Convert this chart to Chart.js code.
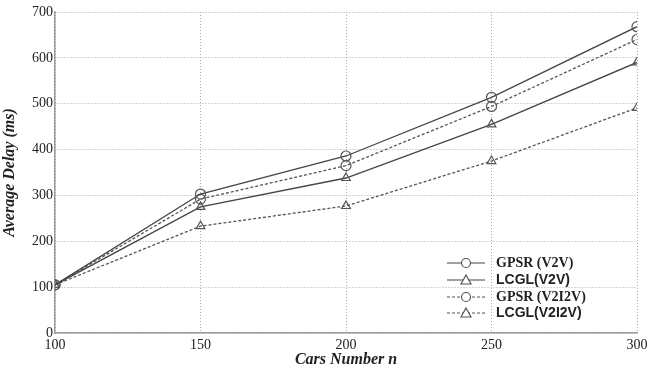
<!DOCTYPE html>
<html>
<head>
<meta charset="utf-8">
<script src="https://cdn.jsdelivr.net/npm/chart.js@4/dist/chart.umd.min.js"></script>
<style>
  html, body { margin: 0; padding: 0; background: #fff; }
  #wrap { position: relative; width: 656px; height: 369px; }
</style>
</head>
<body>
<div id="wrap"><canvas id="c" width="656" height="369"></canvas></div>
<script>
// Daten
const carsNumber = [100, 150, 200, 250, 300];
const gpsrV2V = [105, 303, 386, 514, 668];
const lcglV2V = [105, 275, 338, 455, 590];
const gpsrV2I2V = [105, 292, 365, 494, 640];
const lcglV2I2V = [105, 233, 277, 375, 491];
const seriesLabels = ['GPSR (V2V)', 'LCGL(V2V)', 'GPSR (V2I2V)', 'LCGL(V2I2V)'];

const SERIF = '"Liberation Serif", "DejaVu Serif", serif';
const SANS = '"Liberation Sans", Arial, sans-serif';
const LINE = '#454545';
const DASH = [3, 2];

function toPoints(ys) {
    return carsNumber.map((x, i) => ({ x, y: ys[i] }));
}

function makeSet(label, ys, style, dashed) {
    return {
        label,
        data: toPoints(ys),
        borderColor: dashed ? '#555' : LINE,
        borderWidth: 1.3,
        borderDash: dashed ? DASH : [],
        pointStyle: style,
        pointRadius: 5,
        pointBorderColor: '#555',
        pointBackgroundColor: 'rgba(255,255,255,0)',
        pointBorderWidth: 1.2,
        tension: 0
    };
}

// Legende selbst zeichnen (gemischte Schriften wie im Original)
const legendPlugin = {
    id: 'ownLegend',
    afterDraw(chart) {
        const ctx = chart.ctx;
        const rows = [263, 280, 297, 313];
        const fonts = ['bold 14px ' + SERIF, 'bold 14px ' + SANS, 'bold 14px ' + SERIF, 'bold 14px ' + SANS];
        ctx.save();
        chart.data.datasets.forEach((ds, i) => {
            const y = rows[i];
            ctx.strokeStyle = ds.borderColor;
            ctx.lineWidth = 1.2;
            ctx.setLineDash(ds.borderDash);
            ctx.beginPath();
            ctx.moveTo(447, y);
            ctx.lineTo(485, y);
            ctx.stroke();
            ctx.setLineDash([]);
            ctx.strokeStyle = '#555';
            ctx.beginPath();
            if (ds.pointStyle === 'circle') {
                ctx.arc(466, y, 4.5, 0, Math.PI * 2);
            } else {
                ctx.moveTo(466, y - 5);
                ctx.lineTo(471, y + 4);
                ctx.lineTo(461, y + 4);
                ctx.closePath();
            }
            ctx.fillStyle = '#fff';
            ctx.fill();
            ctx.stroke();
            ctx.fillStyle = '#222';
            ctx.font = fonts[i];
            ctx.textBaseline = 'middle';
            ctx.fillText(ds.label, 496, y);
        });
        ctx.restore();
    }
};

new Chart(document.getElementById('c'), {
    type: 'line',
    data: {
        datasets: [
            makeSet(seriesLabels[0], gpsrV2V, 'circle', false),
            makeSet(seriesLabels[1], lcglV2V, 'triangle', false),
            makeSet(seriesLabels[2], gpsrV2I2V, 'circle', true),
            makeSet(seriesLabels[3], lcglV2I2V, 'triangle', true)
        ]
    },
    options: {
        responsive: false,
        animation: false,
        layout: { padding: { top: 12, right: 19, bottom: 0, left: 0 } },
        plugins: {
            legend: { display: false },
            tooltip: { enabled: false }
        },
        scales: {
            x: {
                type: 'linear',
                min: 100,
                max: 300,
                afterFit: (s) => { s.height = 36; },
                ticks: { stepSize: 50, color: '#222', padding: 4, font: { family: SERIF, size: 14 } },
                grid: { color: '#aaa', lineWidth: 1, drawTicks: false },
                border: { color: '#999', width: 1.5, dash: [1, 2] },
                title: {
                    display: true,
                    text: 'Cars Number n',
                    color: '#222',
                    padding: { top: 0, bottom: 0 },
                    font: { family: SERIF, size: 16, weight: 'bold', style: 'italic' }
                }
            },
            y: {
                min: 0,
                max: 700,
                afterFit: (s) => { s.width = 55; },
                ticks: { stepSize: 100, color: '#222', padding: 2, font: { family: SERIF, size: 14 } },
                grid: { color: '#aaa', lineWidth: 1, drawTicks: false },
                border: { color: '#999', width: 1.5, dash: [1, 2] },
                title: {
                    display: true,
                    text: 'Average Delay (ms)',
                    color: '#222',
                    padding: { top: 0, bottom: 2 },
                    font: { family: SERIF, size: 16, weight: 'bold', style: 'italic' }
                }
            }
        }
    },
    plugins: [legendPlugin]
});
</script>
</body>
</html>
